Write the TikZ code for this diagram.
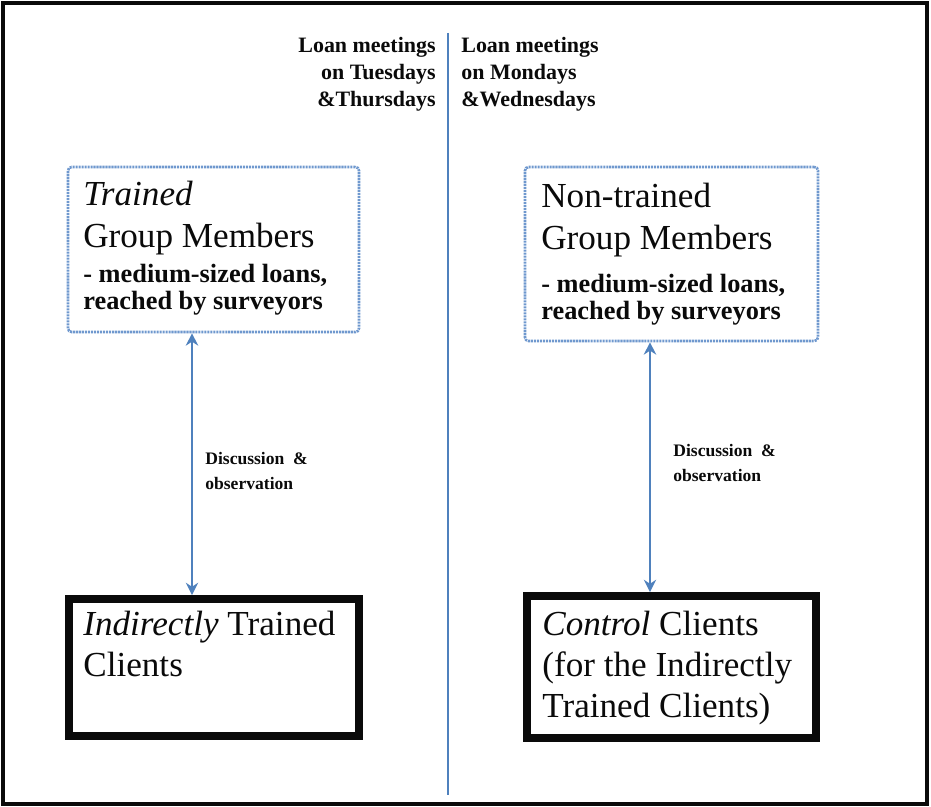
\documentclass[tikz,border=0pt]{standalone}
\usepackage{fontspec}
\setmainfont{Liberation Serif}
\usepackage{xcolor}
\definecolor{Accent}{HTML}{4F81BD}
\definecolor{AccentSoft}{HTML}{6F98CE}
\definecolor{Ink}{HTML}{0A0A0A}
\usetikzlibrary{arrows.meta, positioning}

\begin{document}
\begin{tikzpicture}[x=0.02cm, y=-0.02cm, >={Stealth[length=7pt, width=7pt]},
  frame/.style={draw=Ink, line width=2.3pt},
  divider/.style={draw=Accent, line width=1.6pt},
  softbox/.style={rectangle, draw=AccentSoft, line width=1.5pt, rounded corners=2pt,
                  dash pattern=on 1.2pt off 0.5pt, inner sep=0pt},
  hardbox/.style={rectangle, draw=Ink, line width=4.5pt, inner sep=0pt},
  head/.style={anchor=north west, align=left, inner sep=0pt, text=Ink,
               font=\fontsize{20}{24}\selectfont},
  sub/.style={anchor=north west, align=left, inner sep=0pt, text=Ink,
              font=\fontsize{15}{15.5}\selectfont\bfseries},
  meet/.style={inner sep=0pt, text=Ink, font=\fontsize{12.5}{15.3}\selectfont\bfseries},
  note/.style={anchor=north west, align=left, inner sep=0pt, text=Ink,
               font=\fontsize{10}{14}\selectfont\bfseries},
  link/.style={<->, draw=Accent, line width=1.4pt}
]

%% ---- Page frame ----
\useasboundingbox (0,0) rectangle (931,807);
\draw[frame] (3,3) rectangle (927,804);

%% ---- Meeting days divider ----
\coordinate (divtop) at (448,33);
\coordinate (divbot) at (448,795);
\draw[divider] (divtop) -- (divbot);
\node[meet, anchor=north east, align=right] (tuethu) at (436,37)
  {Loan meetings\\on Tuesdays\\\&Thursdays};
\node[meet, anchor=north west, align=left] (monwed) at (461,37)
  {Loan meetings\\on Mondays\\\&Wednesdays};

%% ---- Group members (top row) ----
\node[softbox, minimum width=5.82cm, minimum height=3.30cm] (trained) at (213.5,249.5) {};
\node[head] (trainedhead) at (83,181) {\textit{Trained}\\Group Members};
\node[sub]  (trainedsub)  at (83,264) {- medium-sized loans,\\reached by surveyors};

\node[softbox, minimum width=5.86cm, minimum height=3.48cm] (untrained) at (671.5,254) {};
\node[head] (untrainedhead) at (541,183) {Non-trained\\Group Members};
\node[sub]  (untrainedsub)  at (541,274) {- medium-sized loans,\\reached by surveyors};

%% ---- Clients (bottom row) ----
\node[hardbox, minimum width=5.80cm, minimum height=2.74cm] (indirect) at (214,667.5) {};
\node[head, font=\fontsize{20}{23}\selectfont] (indirecthead) at (83,611)
  {\textit{Indirectly} Trained\\Clients};

\node[hardbox, minimum width=5.78cm, minimum height=2.84cm] (control) at (671.5,667) {};
\node[head, font=\fontsize{20}{23.3}\selectfont] (controlhead) at (542,611)
  {\textit{Control} Clients\\(for the Indirectly\\Trained Clients)};

%% ---- Arrows ----
\coordinate (leftlane)  at (192,0);
\coordinate (rightlane) at (650,0);
\draw[link] (leftlane |- trained.south) -- (leftlane |- indirect.north);
\draw[link] (rightlane |- untrained.south) -- (rightlane |- control.north);
\node[note] (lefttalk)  at (205,452) {Discussion \ \&\\observation};
\node[note] (righttalk) at (673,444) {Discussion \ \&\\observation};

\end{tikzpicture}
\end{document}
